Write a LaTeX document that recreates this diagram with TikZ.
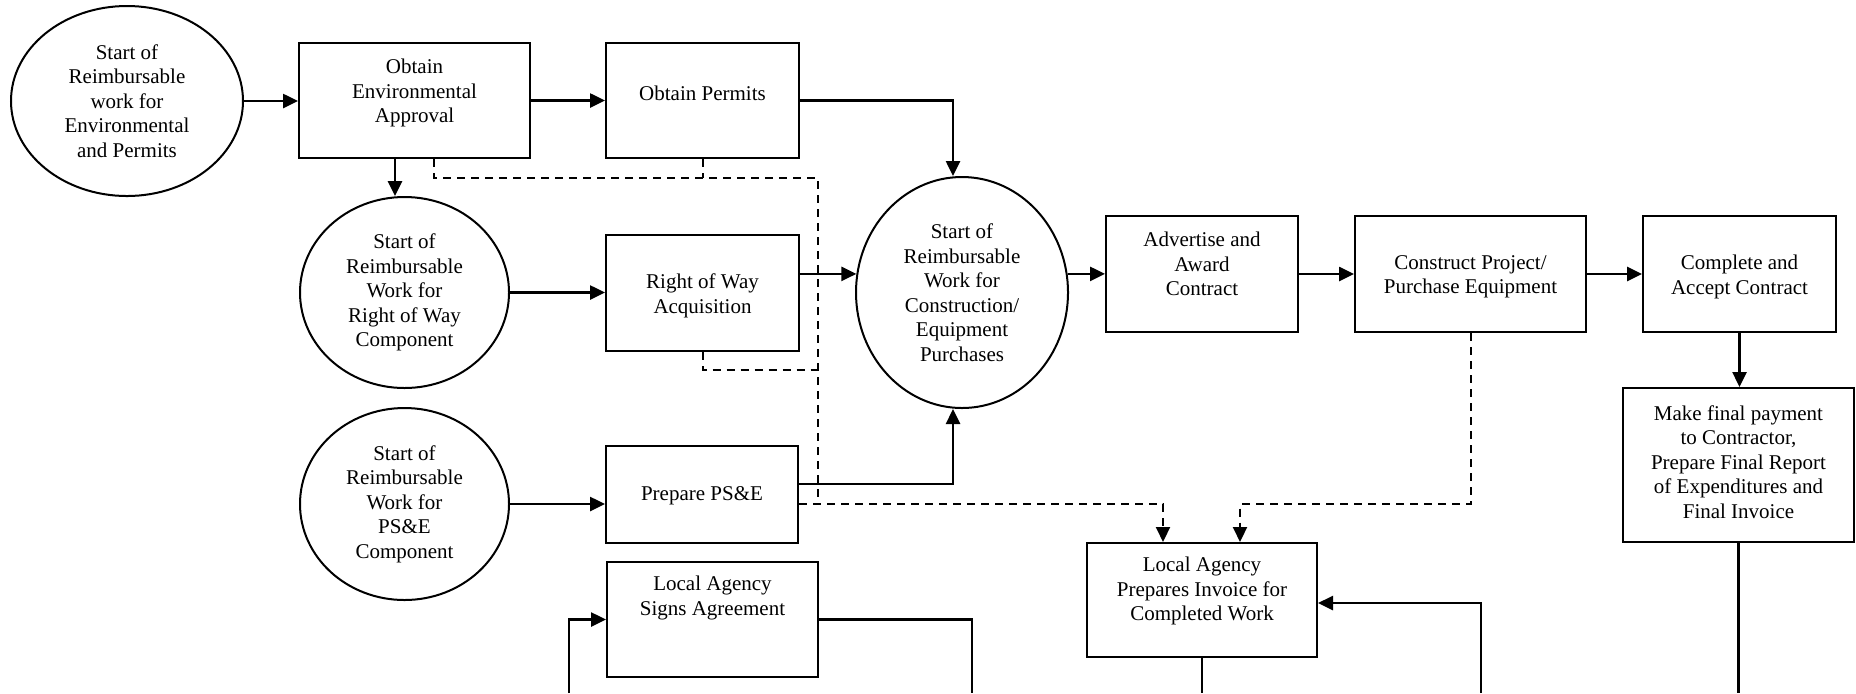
\documentclass[tikz,border=0pt]{standalone}
\usepackage{fontspec}
\setmainfont{Liberation Serif}
\usetikzlibrary{arrows.meta,shapes.geometric,calc}
\begin{document}
\begin{tikzpicture}[x=0.5pt,y=-0.5pt,
  box/.style={draw, line width=1pt, rectangle, inner sep=0pt},
  oval/.style={draw, line width=1pt, ellipse, inner sep=0pt, align=center, font=\fontsize{10.5}{12.25}\selectfont},
  txt/.style={align=center, font=\fontsize{10.5}{12.25}\selectfont, inner sep=0pt},
  conn/.style={line width=1.3pt},
  arr/.style={line width=1.3pt, -{Triangle[length=7.5pt,width=7pt]}},
  dashln/.style={line width=1pt, dash pattern=on 4pt off 3pt},
  darr/.style={dashln, -{Triangle[length=7.5pt,width=7pt]}},
]
\useasboundingbox[fill=white] (0,0) rectangle (1856,693);

% ellipses
\node[oval, minimum width=116pt, minimum height=95pt] (e1) at (127,101) {Start of\\Reimbursable\\work for\\Environmental\\and Permits};
\node[oval, minimum width=104.5pt, minimum height=95.5pt] (e2) at (404.5,292.5) {Start of\\Reimbursable\\Work for\\Right of Way\\Component};
\node[oval, minimum width=104.5pt, minimum height=96pt] (e3) at (404.5,504) {Start of\\Reimbursable\\Work for\\PS\&E\\Component};
\node[oval, minimum width=106pt, minimum height=115.5pt] (big) at (962,292.5) {Start of\\Reimbursable\\Work for\\Construction/\\Equipment\\Purchases};

% boxes
\node[box, minimum width=115.5pt, minimum height=57.5pt] (env) at (414.5,100.5) {};
\node[box, minimum width=96.5pt, minimum height=57.5pt] (permits) at (702.5,100.5) {};
\node[box, minimum width=96.5pt, minimum height=58pt] (row) at (702.5,293) {};
\node[box, minimum width=96pt, minimum height=48.5pt] (pse) at (702,494.5) {};
\node[box, minimum width=105.5pt, minimum height=57.5pt] (signs) at (712.5,619.5) {};
\node[box, minimum width=96pt, minimum height=58pt] (adv) at (1202,274) {};
\node[box, minimum width=115.5pt, minimum height=58pt] (cons) at (1470.5,274) {};
\node[box, minimum width=96.5pt, minimum height=58pt] (comp) at (1739.5,274) {};
\node[box, minimum width=115.5pt, minimum height=77pt] (final) at (1738.5,465) {};
\node[box, minimum width=115pt, minimum height=57pt] (inv) at (1202,600) {};

% box texts
\node[txt] (envT) at (414.5,93) {Obtain\\Environmental\\Approval};
\node[txt] (permitsT) at (702.5,93) {Obtain Permits};
\node[txt] (rowT) at (702.5,296) {Right of Way\\Acquisition};
\node[txt] (pseT) at (702,496) {Prepare PS\&E};
\node[txt] (signsT) at (712.5,598) {Local Agency\\Signs Agreement};
\node[txt] (advT) at (1202,264) {Advertise and\\Award\\Contract};
\node[txt] (consT) at (1470.5,277) {Construct Project/\\Purchase Equipment};
\node[txt] (compT) at (1739.5,277) {Complete and\\Accept Contract};
\node[txt] (finalT) at (1738.5,462) {Make final payment\\to Contractor,\\Prepare Final Report\\of Expenditures and\\Final Invoice};
\node[txt] (invT) at (1202,591) {Local Agency\\Prepares Invoice for\\Completed Work};

% helper coordinates
\coordinate (cA) at (395,0);
\coordinate (bot) at (0,693);
\coordinate (cB) at (1481,693);
\coordinate (cC) at (569,693);
\coordinate (cD) at (972,693);
\coordinate (dx) at (818,0);
\coordinate (dTop) at (0,178);
\coordinate (cE) at (434,0);
\coordinate (xF) at (1163,0);
\coordinate (xG) at (1240,0);
\coordinate (dBot) at ([yshift=-4.75pt]pse.east);

% solid connectors
\draw[arr] (e1.east) -- (e1.east -| env.west);
\draw[arr] (env.east) -- (permits.west);
\draw[arr] (permits.east) -| ([xshift=-4.5pt]big.north);
\draw[arr] (env.south -| cA) -- (e2.north -| cA);
\draw[arr] (e2.east) -- (e2.east -| row.west);
\draw[arr] (row.east |- big.170) -- (big.170);
\draw[arr] (e3.east) -- (e3.east -| pse.west);
\draw[arr] ([yshift=5.25pt]pse.east) -| ([xshift=-4.5pt]big.south);
\draw[arr] (big.10) -- (big.10 -| adv.west);
\draw[arr] (adv.east) -- (cons.west);
\draw[arr] (cons.east) -- (comp.west);
\draw[arr] (comp.south) -- (comp.south |- final.north);
\draw[conn] (final.south) -- (final.south |- bot);
\draw[conn] (inv.south) -- (inv.south |- bot);
\draw[arr] (cB) |- ([yshift=-1.5pt]inv.east);
\draw[arr] (cC) |- (signs.west);
\draw[conn] (signs.east) -| (cD);

% dashed connectors
\draw[dashln] (env.south -| cE) -- (cE |- dTop) -- (dx |- dTop) -- (dx |- dBot);
\draw[dashln] (permits.south) -- (permits.south |- dTop);
\draw[dashln] (row.south) -- ++(0,18) coordinate (rr) -- (rr -| dx);
\draw[darr] (dBot) -| (inv.north -| xF);
\draw[darr] (cons.south) -- (cons.south |- dBot) -| (inv.north -| xG);
\end{tikzpicture}
\end{document}
